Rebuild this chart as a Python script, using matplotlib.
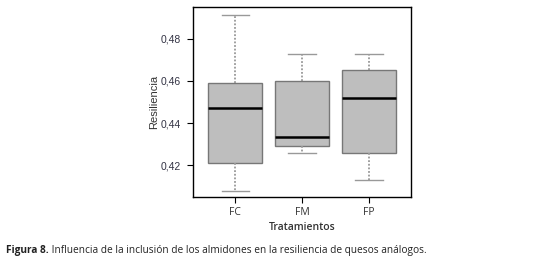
import matplotlib
matplotlib.use("Agg")
import matplotlib.pyplot as plt

categories = ["FC", "FM", "FP"]
whislo = [0.4078, 0.4256, 0.4129]
q1 = [0.4211, 0.4290, 0.4256]
med = [0.4470, 0.4332, 0.4518]
q3 = [0.4592, 0.4600, 0.4652]
whishi = [0.4913, 0.4727, 0.4727]
yticks = [0.42, 0.44, 0.46, 0.48]
ytick_labels = ["0,42", "0,44", "0,46", "0,48"]
caption_bold = "Figura 8."
caption_rest = " Influencia de la inclusión de los almidones en la resiliencia de quesos análogos."

fig = plt.figure(figsize=(5.59, 2.63), dpi=100)
ax = fig.add_axes([193/559, 1-197/263, (411-193)/559, (197-7)/263])

stats = []
for i, c in enumerate(categories):
    stats.append(dict(label=c, whislo=whislo[i], q1=q1[i], med=med[i],
                      q3=q3[i], whishi=whishi[i], fliers=[]))

ax.bxp(stats, positions=[1, 2, 3], widths=0.81, patch_artist=True,
       showfliers=False,
       boxprops=dict(facecolor="#bebebe", edgecolor="#777777", linewidth=1.0),
       medianprops=dict(color="black", linewidth=1.8),
       whiskerprops=dict(color="#999999", linestyle=(0, (1.0, 1.0)), linewidth=1.3),
       capprops=dict(color="#999999", linewidth=1.0),
       capwidths=0.41)

ax.set_xlim(0.369, 3.627)
ax.set_ylim(0.4048, 0.4952)
ax.set_yticks(yticks)
ax.set_yticklabels(ytick_labels, fontfamily="Liberation Sans", fontsize=7.5, color="#333344")
ax.set_xticks([1, 2, 3])
ax.set_xticklabels(categories, fontfamily="Open Sans", fontsize=7.5, color="#333333")
ax.tick_params(axis="y", length=4.5, width=0.8, color="black", pad=4.5)
ax.tick_params(axis="x", length=4.5, width=0.8, color="black", pad=2.5)
for s in ax.spines.values():
    s.set_linewidth(1.0)
ax.set_ylabel("Resiliencia", fontfamily="Liberation Sans", fontsize=8, color="#333333", labelpad=0.5)
ax.set_xlabel("Tratamientos", fontfamily="Open Sans", fontsize=7.5, fontweight="semibold",
              color="#333333", labelpad=3)

t1 = fig.text(6/559, 1-251/263, caption_bold, fontsize=7.3, va="center", ha="left",
              fontfamily="Open Sans", fontweight="bold", color="#222222")
fig.canvas.draw()
bb = t1.get_window_extent(renderer=fig.canvas.get_renderer())
fig.text(bb.x1/559, 1-251/263, caption_rest, fontsize=7.3, va="center", ha="left",
         fontfamily="Open Sans", color="#222222")
fig.savefig("out.png", dpi=100)
